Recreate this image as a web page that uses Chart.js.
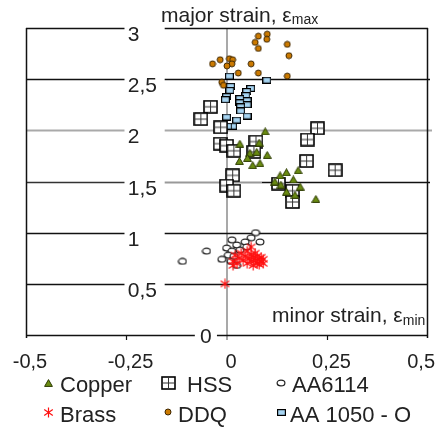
<!DOCTYPE html>
<html>
<head>
<meta charset="utf-8">
<script src="https://cdn.jsdelivr.net/npm/chart.js@4"></script>
<style>
  html, body { margin: 0; padding: 0; background: #fff; }
  #wrap { width: 436px; height: 427px; }
</style>
</head>
<body>
<div id="wrap"><canvas id="strainChart"></canvas></div>
<script>
// tick labels
const xTickLabels = ['-0,5', '-0,25', '0', '0,25', '0,5'];
const yTickValues = [0, 0.5, 1, 1.5, 2, 2.5, 3];
const yTickLabels = ['0', '0,5', '1', '1,5', '2', '2,5', '3'];

// series: [minor strain, major strain]
const copper = [
  [0.095, 1.99], [0.032, 1.87], [0.080, 1.88], [0.057, 1.78], [0.074, 1.79],
  [0.100, 1.76], [0.031, 1.70], [0.051, 1.73], [0.064, 1.66], [0.082, 1.68],
  [0.132, 1.56], [0.148, 1.59], [0.177, 1.61], [0.165, 1.52], [0.119, 1.50],
  [0.134, 1.47], [0.148, 1.40], [0.182, 1.45], [0.169, 1.37], [0.221, 1.33]
];
const hss = [
  [-0.041, 2.23], [-0.065, 2.11], [-0.016, 2.03], [-0.017, 1.87], [-0.001, 1.85],
  [0.017, 1.80], [0.072, 1.89], [0.067, 1.79], [0.225, 2.02], [0.200, 1.91],
  [0.198, 1.70], [0.269, 1.61], [0.014, 1.56], [-0.001, 1.46], [0.017, 1.41],
  [0.128, 1.48], [0.163, 1.41], [0.163, 1.30]
];
const aa6114 = [
  [-0.111, 0.72], [-0.051, 0.82], [0.071, 1.00], [0.060, 0.95], [0.082, 0.91],
  [0.045, 0.91], [0.012, 0.93], [0.024, 0.88], [-0.001, 0.85], [0.032, 0.83],
  [0.012, 0.82], [0.003, 0.78], [-0.013, 0.74], [0.010, 0.72], [0.024, 0.68],
  [0.017, 0.77], [0.049, 0.86]
];
const brass = [
  [0.015, 0.72], [0.020, 0.78], [0.025, 0.70], [0.030, 0.75], [0.035, 0.80],
  [0.040, 0.73], [0.045, 0.77], [0.050, 0.70], [0.050, 0.82], [0.055, 0.75],
  [0.060, 0.72], [0.060, 0.79], [0.065, 0.68], [0.065, 0.76], [0.070, 0.73],
  [0.070, 0.80], [0.075, 0.70], [0.075, 0.77], [0.080, 0.74], [0.080, 0.69],
  [0.085, 0.76], [0.085, 0.72], [0.090, 0.74], [0.090, 0.70], [0.060, 0.86],
  [0.015, 0.68], [-0.005, 0.50]
];
const ddq = [
  [0.078, 2.92], [0.100, 2.94], [0.099, 2.89], [0.070, 2.86], [0.078, 2.80],
  [0.150, 2.84], [0.154, 2.73], [-0.036, 2.65], [-0.017, 2.69], [0.006, 2.70],
  [0.014, 2.69], [0.012, 2.65], [0.000, 2.63], [0.060, 2.65], [0.028, 2.56],
  [0.078, 2.56], [0.150, 2.53], [-0.013, 2.47], [-0.009, 2.44]
];
const aa1050 = [
  [0.006, 2.53], [0.099, 2.49], [0.009, 2.43], [0.007, 2.39], [-0.001, 2.33],
  [-0.004, 2.30], [0.059, 2.41], [0.049, 2.38], [0.047, 2.34], [0.032, 2.31],
  [0.050, 2.29], [0.032, 2.27], [0.050, 2.25], [0.034, 2.23], [0.034, 2.19],
  [0.050, 2.14], [-0.001, 2.13], [0.024, 2.10], [0.014, 2.04], [0.002, 2.04]
];

const FONT = '"Liberation Sans", Arial, sans-serif';

// marker images
function mk(w, h, draw) {
  const c = document.createElement('canvas');
  c.width = w; c.height = h;
  draw(c.getContext('2d'), w, h);
  return c;
}
const triMark = mk(9, 8, g => {
  g.beginPath(); g.moveTo(4.5, 0.6); g.lineTo(8.4, 7.4); g.lineTo(0.6, 7.4); g.closePath();
  g.fillStyle = '#6b8c12'; g.fill();
  g.strokeStyle = '#2c3a00'; g.lineWidth = 1; g.stroke();
});
const hssMark = mk(15, 14, g => {
  g.fillStyle = '#fff'; g.fillRect(1, 1, 13, 12);
  g.strokeStyle = '#000'; g.lineWidth = 1.6; g.strokeRect(1, 1, 13, 12);
  g.lineWidth = 1; g.strokeStyle = '#333';
  g.beginPath(); g.moveTo(7.5, 1); g.lineTo(7.5, 13); g.moveTo(1, 7); g.lineTo(14, 7); g.stroke();
});
const ringMark = mk(10, 8, g => {
  g.beginPath(); g.ellipse(5, 4, 3.9, 2.9, 0, 0, Math.PI * 2);
  g.fillStyle = '#fff'; g.fill();
  g.strokeStyle = '#222'; g.lineWidth = 1.2; g.stroke();
});
const starMark = mk(11, 11, g => {
  g.strokeStyle = '#ff1010'; g.lineWidth = 1.2;
  g.beginPath();
  g.moveTo(5.5, 0.5); g.lineTo(5.5, 10.5);
  g.moveTo(1.2, 2.5); g.lineTo(9.8, 8.5);
  g.moveTo(9.8, 2.5); g.lineTo(1.2, 8.5);
  g.stroke();
});
const dotMark = mk(8, 8, g => {
  g.beginPath(); g.arc(4, 4, 3, 0, Math.PI * 2);
  g.fillStyle = '#cc7a00'; g.fill();
  g.strokeStyle = '#3d2600'; g.lineWidth = 1; g.stroke();
});
const boxMark = mk(9, 7, g => {
  g.fillStyle = '#a6d4f2'; g.fillRect(0.5, 0.5, 8, 6);
  g.strokeStyle = '#000'; g.lineWidth = 1.2; g.strokeRect(0.6, 0.6, 7.8, 5.8);
});

const toPts = arr => arr.map(p => ({ x: p[0], y: p[1] }));

const datasets = [
  { label: 'Copper', data: toPts(copper), pointStyle: triMark, order: 0 },
  { label: 'HSS', data: toPts(hss), pointStyle: hssMark, order: 2 },
  { label: 'AA6114', data: toPts(aa6114), pointStyle: ringMark, order: 4 },
  { label: 'Brass', data: toPts(brass), pointStyle: starMark, order: 1 },
  { label: 'DDQ', data: toPts(ddq), pointStyle: dotMark, order: 3 },
  { label: 'AA 1050 - O', data: toPts(aa1050), pointStyle: boxMark, order: 5 }
];

function hline(ctx, x1, x2, y, color, w) {
  ctx.strokeStyle = color; ctx.lineWidth = w;
  ctx.beginPath(); ctx.moveTo(x1, y); ctx.lineTo(x2, y); ctx.stroke();
}
function vline(ctx, x, y1, y2, color, w) {
  ctx.strokeStyle = color; ctx.lineWidth = w;
  ctx.beginPath(); ctx.moveTo(x, y1); ctx.lineTo(x, y2); ctx.stroke();
}

// frame, grid lines and y labels sitting inside the plot
const framePlugin = {
  id: 'frame',
  beforeDatasetsDraw(chart) {
    const { ctx, chartArea: a, scales: { x, y } } = chart;
    const gapL = x.getPixelForValue(-0.255), gapR = x.getPixelForValue(-0.155);
    ctx.save();
    vline(ctx, x.getPixelForValue(0), a.top, a.bottom + 5, '#a9a9a9', 2);

    yTickValues.forEach((v, i) => {
      const py = Math.round(y.getPixelForValue(v)) + 0.5;
      if (v === 0) {
        hline(ctx, a.left, x.getPixelForValue(-0.08), py, '#111', 1.5);
        hline(ctx, x.getPixelForValue(-0.025), a.right, py, '#111', 1.5);
      } else if (v === 2) {
        hline(ctx, a.left, gapL, py, '#a9a9a9', 2);
        hline(ctx, gapR, a.right + 4, py, '#a9a9a9', 2);
      } else if (v === 1.5) {
        hline(ctx, a.left, gapL, py, '#333', 1.5);
        hline(ctx, gapR, x.getPixelForValue(0.087), py, '#999', 1.8);
        hline(ctx, x.getPixelForValue(0.087), a.right + 2, py, '#111', 1.5);
      } else {
        hline(ctx, a.left, gapL, py, '#111', 1.5);
        hline(ctx, gapR, a.right + (v === 2.5 ? 2 : 0), py, '#111', 1.5);
      }
      ctx.fillStyle = '#222';
      ctx.font = '21px ' + FONT;
      ctx.textAlign = 'left';
      ctx.textBaseline = 'alphabetic';
      if (v === 0) ctx.fillText(yTickLabels[i], x.getPixelForValue(-0.067), py + 7);
      else ctx.fillText(yTickLabels[i], x.getPixelForValue(-0.247), py + 12);
    });

    // left / right borders and bottom tick marks
    vline(ctx, a.left + 0.5, a.top, a.bottom + 3, '#111', 1.5);
    vline(ctx, a.right - 0.5, a.top, a.bottom + 3, '#111', 1.5);
    [-0.25, 0.25].forEach(t => vline(ctx, x.getPixelForValue(t), a.bottom, a.bottom + 5, '#111', 1.2));

    // x tick labels, kept inside the canvas
    ctx.font = '20px ' + FONT;
    ctx.fillStyle = '#222';
    ctx.textAlign = 'center';
    x.ticks.forEach((t, i) => {
      const w = ctx.measureText(xTickLabels[i]).width;
      let cx = x.getPixelForValue(t.value) + 4;
      cx = Math.max(12 + w / 2, Math.min(435 - w / 2, cx));
      ctx.fillText(xTickLabels[i], cx, a.bottom + 33);
    });
    ctx.textAlign = 'left';

    // axis captions
    ctx.fillStyle = '#222';
    ctx.font = '21px ' + FONT;
    ctx.textBaseline = 'alphabetic';
    const tx = 161;
    ctx.fillText('major strain, ε', tx, 22);
    const tw = ctx.measureText('major strain, ε').width;
    ctx.font = '14px ' + FONT;
    ctx.fillText('max', tx + tw, 24);

    ctx.save();
    ctx.beginPath(); ctx.rect(a.left, a.top, a.right - a.left - 1, a.bottom - a.top); ctx.clip();
    ctx.font = '21px ' + FONT;
    ctx.fillText('minor strain, ε', 272, 322);
    const mw = ctx.measureText('minor strain, ε').width;
    ctx.font = '14px ' + FONT;
    ctx.fillText('min', 272 + mw, 325);
    ctx.restore();
    ctx.restore();
  },
  afterDraw(chart) {
    const { ctx } = chart;
    const cols = [[48, 60], [168, 187], [281, 292]];
    const rows = [[383, 392], [412, 422]];
    ctx.save();
    ctx.fillStyle = '#222';
    ctx.font = '22px ' + FONT;
    ctx.textAlign = 'left';
    ctx.textBaseline = 'alphabetic';
    chart.data.datasets.forEach((ds, i) => {
      const c = cols[i % 3], r = rows[Math.floor(i / 3)];
      const img = ds.pointStyle;
      ctx.drawImage(img, Math.round(c[0] - img.width / 2), Math.round(r[0] - img.height / 2));
      const textX = (ds.label === 'DDQ') ? 178 : (ds.label === 'AA 1050 - O' ? 290 : c[1]);
      ctx.fillText(ds.label, textX, r[1]);
    });
    ctx.restore();
  }
};

new Chart(document.getElementById('strainChart'), {
  type: 'scatter',
  data: { datasets: datasets },
  plugins: [framePlugin],
  options: {
    responsive: true,
    maintainAspectRatio: false,
    animation: false,
    layout: { padding: { left: 26, right: 8, top: 28, bottom: 60 } },
    plugins: { legend: { display: false }, tooltip: { enabled: false } },
    scales: {
      x: {
        type: 'linear', min: -0.5, max: 0.5,
        grid: { display: false, drawTicks: false },
        border: { display: false },
        ticks: { stepSize: 0.25, autoSkip: false, display: false },
        afterFit(s) { s.height = 32; s.paddingLeft = 0; s.paddingRight = 0; }
      },
      y: {
        type: 'linear', min: 0, max: 3, display: false
      }
    }
  }
});
</script>
</body>
</html>
